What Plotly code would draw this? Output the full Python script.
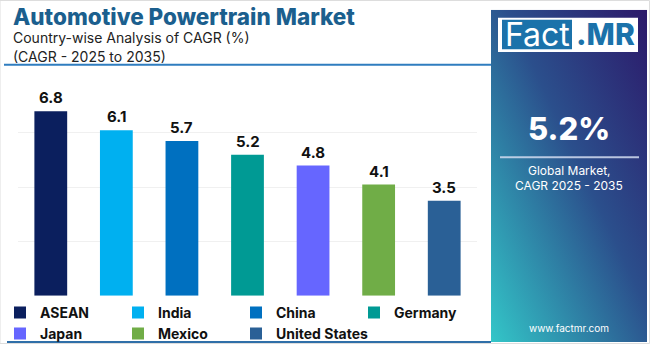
import base64
import plotly.graph_objects as go

countries = ["ASEAN", "India", "China", "Germany", "Japan", "Mexico", "United States"]
cagr = [6.8, 6.1, 5.7, 5.2, 4.8, 4.1, 3.5]
colors = ["#0b1f5e", "#00b0f0", "#0070c0", "#009a94", "#6666ff", "#70ad47", "#2a6096"]
title = "Automotive Powertrain Market"
subtitle1 = "Country-wise Analysis of CAGR (%)"
subtitle2 = "(CAGR - 2025 to 2035)"
global_cagr = "5.2%"
panel_lines = ["Global Market,", "CAGR 2025 - 2035"]
website = "www.factmr.com"

W, H = 650, 350
R = 160            # right margin: plot "paper" width = 490 px
PW = W - R
FONT = "Inter"


def px(x):
    return x / PW


def py(y):
    return 1 - y / H


fig = go.Figure()
for c, v, col in zip(countries, cagr, colors):
    fig.add_trace(go.Bar(x=[c], y=[v], name=c, marker=dict(color=col, line=dict(width=0)),
                         width=0.5, showlegend=True))

annotations = []
for c, v in zip(countries, cagr):
    annotations.append(dict(x=c, y=v, xref="x", yref="y", text=f"<b>{v:.1f}</b>", showarrow=False,
                            yanchor="bottom", yshift=2, font=dict(family=FONT, size=15, color="#111111")))

annotations += [
    dict(x=px(11), y=py(17), xref="paper", yref="paper", xanchor="left", yanchor="middle",
         text=title, showarrow=False,
         font=dict(family=FONT, size=22.5, color="#1b5f8e", weight=800)),
    dict(x=px(11), y=py(38), xref="paper", yref="paper", xanchor="left", yanchor="middle",
         text=subtitle1, showarrow=False, font=dict(family=FONT, size=14, color="#222222")),
    dict(x=px(11), y=py(57), xref="paper", yref="paper", xanchor="left", yanchor="middle",
         text=subtitle2, showarrow=False, font=dict(family=FONT, size=14, color="#222222")),
    dict(x=px(537), y=py(35), xref="paper", yref="paper", xanchor="center", yanchor="middle",
         text="Fact", showarrow=False, font=dict(family=FONT, size=32, color="white")),
    dict(x=px(605), y=py(35), xref="paper", yref="paper", xanchor="center", yanchor="middle",
         text=".MR", showarrow=False, font=dict(family=FONT, size=30, color="#1b72aa", weight=800)),
    dict(x=px(569), y=py(131), xref="paper", yref="paper", xanchor="center", yanchor="middle",
         text=global_cagr, showarrow=False, font=dict(family=FONT, size=31, color="white", weight=800)),
    dict(x=px(569), y=py(173), xref="paper", yref="paper", xanchor="center", yanchor="middle",
         text=panel_lines[0], showarrow=False, font=dict(family=FONT, size=12, color="white")),
    dict(x=px(569), y=py(189), xref="paper", yref="paper", xanchor="center", yanchor="middle",
         text=panel_lines[1], showarrow=False, font=dict(family=FONT, size=12, color="white")),
    dict(x=px(569), y=py(334), xref="paper", yref="paper", xanchor="center", yanchor="middle",
         text=website, showarrow=False, font=dict(family=FONT, size=10, color="white")),
]

shapes = [
    dict(type="rect", xref="paper", yref="paper", x0=px(0), x1=px(649.5), y0=py(349.5), y1=py(0.5),
         line=dict(color="#dddddd", width=1), fillcolor="rgba(0,0,0,0)", layer="below"),
    dict(type="line", xref="paper", yref="paper", x0=px(4), x1=px(491), y0=py(66), y1=py(66),
         line=dict(color="#2f7dbf", width=2)),
    dict(type="line", xref="paper", yref="paper", x0=px(7), x1=px(491), y0=py(348), y1=py(348),
         line=dict(color="#2f6fa8", width=2)),
    dict(type="rect", xref="paper", yref="paper", x0=px(498), x1=px(638), y0=py(53), y1=py(18),
         fillcolor="white", line=dict(width=0)),
    dict(type="rect", xref="paper", yref="paper", x0=px(502), x1=px(572), y0=py(50), y1=py(20),
         fillcolor="#1b72aa", line=dict(width=0)),
    dict(type="line", xref="paper", yref="paper", x0=px(500), x1=px(639), y0=py(160), y1=py(160),
         line=dict(color="rgba(210,220,240,0.85)", width=2)),
]

svg = ('<svg xmlns="http://www.w3.org/2000/svg" width="156" height="338" viewBox="0 0 156 338" '
       'preserveAspectRatio="none"><defs><linearGradient id="g" x1="1" y1="0" x2="0" y2="1">'
       '<stop offset="0" stop-color="#2c196a"/><stop offset="0.45" stop-color="#2b4f8c"/>'
       '<stop offset="1" stop-color="#33c6c8"/></linearGradient></defs>'
       '<rect width="156" height="338" fill="url(#g)"/></svg>')
src = "data:image/svg+xml;base64," + base64.b64encode(svg.encode()).decode()

fig.update_layout(
    width=W, height=H, margin=dict(l=0, r=R, t=0, b=0),
    paper_bgcolor="white", plot_bgcolor="white",
    barmode="overlay", bargap=0.5,
    xaxis=dict(domain=[px(18), px(477)], showticklabels=False, showgrid=False, zeroline=False,
               showline=False, range=[-0.5, 6.5], fixedrange=True),
    yaxis=dict(domain=[py(301), py(80)], range=[0, 8], dtick=2, showticklabels=False,
               showgrid=True, gridcolor="#f0f0f0", gridwidth=1, zeroline=False, showline=False),
    legend=dict(orientation="h", x=0, y=py(302), xanchor="left", yanchor="top",
                entrywidth=73, entrywidthmode="pixels", tracegroupgap=0,
                font=dict(family=FONT, size=14, color="#111111", weight="bold"),
                itemsizing="constant", bgcolor="rgba(0,0,0,0)"),
    annotations=annotations, shapes=shapes,
    images=[dict(source=src, xref="paper", yref="paper", x=px(491), y=py(10),
                 sizex=156 / PW, sizey=338 / H, xanchor="left", yanchor="top",
                 sizing="stretch", layer="below")],
    showlegend=True,
)

fig.write_html("out.html")
